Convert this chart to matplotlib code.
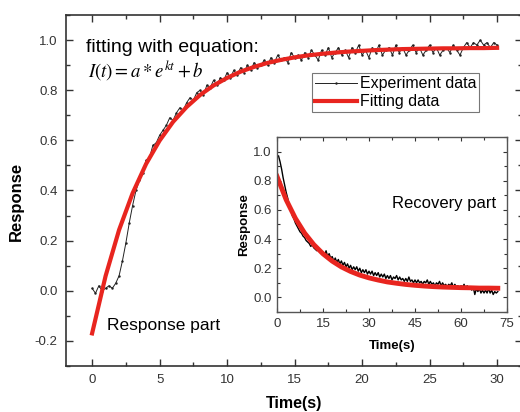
import numpy as np
import matplotlib
matplotlib.use("Agg")
import matplotlib.pyplot as plt
from matplotlib.ticker import MultipleLocator

plt.rcParams['font.family'] = ['Liberation Sans', 'DejaVu Sans']
plt.rcParams['mathtext.fontset'] = 'stix'
plt.rcParams['axes.unicode_minus'] = False

# response part, sampled every 0.25 s
resp_exp = [0.01, -0.01, 0.02, 0.00, 0.01, 0.02, 0.01,
            0.03, 0.06, 0.12, 0.19, 0.27, 0.34, 0.40, 0.44, 0.47, 0.52,
            0.53, 0.58, 0.59, 0.62, 0.64, 0.66, 0.69, 0.68, 0.71, 0.73,
            0.72, 0.75, 0.77, 0.76, 0.79, 0.80, 0.78, 0.82, 0.81, 0.84,
            0.82, 0.85, 0.84, 0.87, 0.85, 0.88, 0.86, 0.89, 0.87, 0.90,
            0.88, 0.91, 0.89, 0.90, 0.92, 0.90, 0.93, 0.91, 0.94, 0.92,
            0.93, 0.91, 0.95, 0.93,
            0.94, 0.92, 0.95, 0.93, 0.96, 0.94, 0.92, 0.96, 0.94, 0.97,
            0.93, 0.95, 0.97, 0.94, 0.96, 0.93, 0.97, 0.95, 0.98, 0.94,
            0.96, 0.93, 0.97, 0.95, 0.98, 0.94, 0.96, 0.97, 0.94, 0.98,
            0.95, 0.97, 0.94, 0.96, 0.98, 0.95, 0.97, 0.94, 0.96, 0.98,
            0.95, 0.97, 0.94, 0.96, 0.97, 0.95, 0.98, 0.96, 0.94, 0.97,
            0.99, 0.97, 0.99, 0.98, 1.00, 0.98, 0.99, 0.97, 0.99, 0.98]
resp_fit = [-0.170, 0.059, 0.243, 0.389, 0.506, 0.599, 0.674, 0.733, 0.781,
            0.819, 0.849, 0.874, 0.893, 0.909, 0.921, 0.931, 0.939, 0.945,
            0.950, 0.954, 0.957, 0.960, 0.962, 0.964, 0.965, 0.966, 0.967,
            0.967, 0.968, 0.968, 0.969]

# recovery part, sampled every 0.5 s starting at 0.5 s
rec_exp = [0.97, 0.93, 0.88, 0.82, 0.77, 0.72, 0.68, 0.63, 0.60, 0.56,
           0.54, 0.51, 0.49, 0.47, 0.45, 0.44, 0.42, 0.41, 0.39, 0.38,
           0.37, 0.35, 0.36, 0.34, 0.33, 0.32, 0.33, 0.31, 0.30, 0.31,
           0.29, 0.32, 0.28, 0.30, 0.27, 0.28, 0.25, 0.27, 0.24, 0.26,
           0.23, 0.25, 0.22, 0.24, 0.21, 0.23, 0.20, 0.22, 0.19, 0.21,
           0.19, 0.21, 0.18, 0.20, 0.17, 0.19, 0.17, 0.19, 0.16, 0.18,
           0.16, 0.18, 0.15, 0.17, 0.15, 0.17, 0.14, 0.16, 0.14, 0.16,
           0.13, 0.15, 0.13, 0.15, 0.12, 0.14, 0.13, 0.15, 0.12, 0.14,
           0.12, 0.13, 0.11, 0.13, 0.11, 0.14, 0.11, 0.12, 0.10, 0.12,
           0.10, 0.12, 0.10, 0.11, 0.09, 0.11, 0.10, 0.12, 0.09, 0.11,
           0.09, 0.10, 0.08, 0.10, 0.09, 0.11, 0.08, 0.10, 0.08, 0.09,
           0.07, 0.09, 0.08, 0.10, 0.07, 0.09, 0.07, 0.08, 0.06, 0.08,
           0.07, 0.09, 0.06, 0.08, 0.06, 0.07, 0.05, 0.07, 0.02, 0.06,
           0.04, 0.06, 0.03, 0.05, 0.03, 0.05, 0.03, 0.06, 0.03, 0.05,
           0.02, 0.04, 0.03, 0.04]
rec_fit = [0.830, 0.669, 0.542, 0.441, 0.362, 0.299, 0.249, 0.209, 0.178,
           0.153, 0.134, 0.119, 0.106, 0.097, 0.089, 0.083, 0.078, 0.074,
           0.071, 0.069, 0.067, 0.066, 0.064, 0.064, 0.063]

t_resp = np.arange(len(resp_exp)) * 0.25
t_resp_fit = np.arange(len(resp_fit)) * 1.0
t_rec = 0.5 + np.arange(len(rec_exp)) * 0.5
t_rec_fit = np.arange(len(rec_fit)) * 3.0

red = '#e8251f'
grey = '#333333'

fig = plt.figure(figsize=(5.2, 4.12), dpi=100)
ax = fig.add_axes([0.127, 0.1117, 0.877, 0.8519])
ax.plot(t_resp, resp_exp, color='#222222', lw=0.7, marker='.', ms=1.5,
        label='Experiment data')
ax.plot(t_resp_fit, resp_fit, color=red, lw=3, label='Fitting data')
ax.set_xlim(-1.93, 31.85)
ax.set_ylim(-0.3, 1.1)
ax.xaxis.set_major_locator(MultipleLocator(5))
ax.xaxis.set_minor_locator(MultipleLocator(2.5))
ax.yaxis.set_major_locator(MultipleLocator(0.2))
ax.yaxis.set_minor_locator(MultipleLocator(0.1))
ax.tick_params(which='both', direction='in', top=True, right=True,
               labelsize=9.5, colors=grey, width=1, pad=6)
ax.tick_params(which='major', length=5)
ax.tick_params(which='minor', length=3)
for s in ax.spines.values():
    s.set_linewidth(1.2)
    s.set_color(grey)
ax.set_xlabel('Time(s)', fontsize=11.5, fontweight='bold')
ax.xaxis.set_label_coords(0.5, -0.086)
ax.set_ylabel('Response', fontsize=12, fontweight='bold')
ax.yaxis.set_label_coords(-0.092, 0.47)
ax.text(0.044, 0.894, 'fitting with equation:', transform=ax.transAxes,
        fontsize=14, va='baseline')
ax.text(0.048, 0.823, r'$I(t) = a * e^{kt} + b$', transform=ax.transAxes,
        fontsize=13.5, va='baseline')
ax.text(0.09, 0.103, 'Response part', transform=ax.transAxes, fontsize=12.5,
        va='baseline')
leg = ax.legend(loc='upper left', bbox_to_anchor=(0.539, 0.835), fontsize=11.5,
                frameon=True, fancybox=False, handlelength=2.6, handletextpad=0.2,
                borderpad=0.2, labelspacing=0.2, borderaxespad=0)
leg.get_frame().set_edgecolor('#555555')
leg.get_frame().set_linewidth(0.8)

# inset: recovery part
ins = fig.add_axes([0.5327, 0.2427, 0.4423, 0.4248])
ins.plot(t_rec, rec_exp, color='black', lw=1.0)
ins.plot(t_rec_fit, rec_fit, color=red, lw=3.5)
ins.set_xlim(0, 75)
ins.set_ylim(-0.1, 1.1)
ins.xaxis.set_major_locator(MultipleLocator(15))
ins.xaxis.set_minor_locator(MultipleLocator(7.5))
ins.yaxis.set_major_locator(MultipleLocator(0.2))
ins.yaxis.set_minor_locator(MultipleLocator(0.1))
ins.tick_params(which='both', direction='in', top=True, right=True,
                labelsize=9.5, colors=grey, width=0.8, pad=4)
ins.tick_params(which='major', length=3)
ins.tick_params(which='minor', length=2)
for s in ins.spines.values():
    s.set_linewidth(1.0)
    s.set_color('#555555')
ins.set_xlabel('Time(s)', fontsize=9.5, fontweight='bold')
ins.xaxis.set_label_coords(0.5, -0.16)
ins.set_ylabel('Response', fontsize=9.5, fontweight='bold')
ins.yaxis.set_label_coords(-0.117, 0.5)
ins.text(0.5, 0.594, 'Recovery part', transform=ins.transAxes, fontsize=12,
         va='baseline')

fig.savefig('out.png', dpi=100)
